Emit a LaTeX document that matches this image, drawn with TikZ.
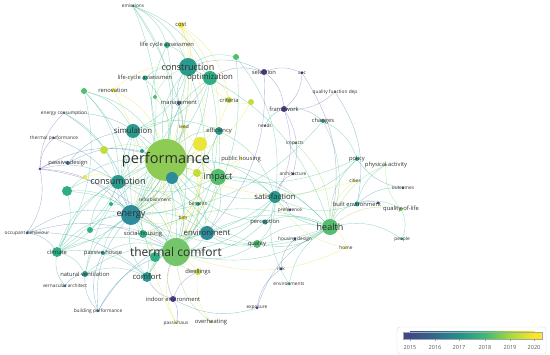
\documentclass[tikz,border=0pt]{standalone}
\usepackage{fontspec}
\setmainfont{Open Sans}
\usetikzlibrary{backgrounds}

% year colours (viridis-like)
\definecolor{vA}{HTML}{4A3F8E}
\definecolor{vB}{HTML}{3A6E9A}
\definecolor{vC}{HTML}{2A9A8E}
\definecolor{vD}{HTML}{2FAE85}
\definecolor{vE}{HTML}{52BE6E}
\definecolor{vF}{HTML}{7FCE5A}
\definecolor{vG}{HTML}{C2DC3A}
\definecolor{vH}{HTML}{F0E532}
\definecolor{vT}{HTML}{2E8C9A}
\definecolor{perfgreen}{HTML}{8DCB55}
\definecolor{thermgreen}{HTML}{74C66A}
\definecolor{ybig}{HTML}{E9E53A}
\definecolor{lbl}{HTML}{2E2E2E}
% link colours
\definecolor{eT}{HTML}{4FC09C}
\definecolor{eY}{HTML}{E2E252}
\definecolor{eP}{HTML}{7D78BE}
\definecolor{eB}{HTML}{4C9CB6}
\definecolor{eG}{HTML}{96D46A}
% colour bar
\definecolor{c15}{HTML}{3F4989}
\definecolor{c16}{HTML}{306A8E}
\definecolor{c17}{HTML}{21918C}
\definecolor{c18}{HTML}{3BBB75}
\definecolor{c19}{HTML}{A5DB36}
\definecolor{c20}{HTML}{FDE725}

\tikzset{
  kw/.style={circle, inner sep=0pt, minimum size=#1},
  lt/.style={font=\fontsize{4.8}{5}\selectfont, text=lbl, inner sep=0pt},
  ls/.style={font=\fontsize{5.8}{6}\selectfont, text=lbl, inner sep=0pt},
  lm/.style={font=\fontsize{7.8}{8}\selectfont, text=lbl, inner sep=0pt},
  lb/.style={font=\fontsize{9}{9}\selectfont, text=lbl, inner sep=0pt},
  lh/.style={font=\fontsize{14.5}{15}\selectfont, text=lbl, inner sep=0pt},
  lH/.style={font=\fontsize{12}{12}\selectfont, text=lbl, inner sep=0pt},
  link/.style={draw=#1, line width=0.35pt, opacity=0.6, bend left=22},
  yr/.style={font=\fontsize{5.6}{6}\selectfont, text=black!65},
}

\begin{document}
\begin{tikzpicture}[x=1pt, y=-1pt]
    \useasboundingbox (0,0) rectangle (550,355);

    % keyword circles
    \foreach \n/\x/\y/\r/\c in {
        emis/133/6/1.5/vC, cost/181/25/3/vH, lcaA/167/45/3/vD,
        constr/188/67/9/vC, optim/210/78/7/vD, gnA/236/57/3/vE,
        lcaB/145/78/2.5/vD, renov/113/90/2/vH, gnB/84/91/3/vE,
        gnC/155/97/2/vE, manag/179/103/2/vB, crit/229/100/3/vG,
        ylA/251/102/3/vG, selec/264/72/3/vA, aec/302/73/1.5/vA,
        qfd/335/92/1.2/vB, frame/284/109/3/vA, chang/323/121/2/vC,
        encons/64/113/1.2/vB, thperf/54/138/1.2/vA, pasdes/68/163/2/vB,
        hub/40/169/1.5/vA, simul/133/131/7/vC, leed/184/127/2/vH,
        effic/219/131/4/vC, perf/166/160/21/perfgreen, ybg/200/144/7/ybig,
        gnD/104/150/4/vG, tealA/142/151/2/vC, pubh/241/159/1.5/vH,
        needs/265/126/1/vB, impacts/295/143/1.5/vF, arch/293/174/1.5/vA,
        impact/218/177/8/vE, ylB/197/173/4/vG, tb/172/178/6/vT,
        consum/118/182/7/vC, gnE/67/191/5/vD, ylC/85/177/2/vH,
        policy/357/159/2/vC, physa/386/165/1.5/vF, cities/355/181/1.5/vH,
        outc/403/188/1.5/vB, satis/275/197/6/vC, pref/290/210/1.5/vA,
        refurb/155/200/1.2/vG, benef/198/204/2/vD, tealB/111/204/2/vD,
        energy/131/215/10/vT, bim/183/218/2/vH, builte/357/204/2.5/vC,
        purp/378/203/1.5/vA, qol/401/209/2/vF, health/330/227/8/vE,
        percep/265/222/2.5/vC, socialh/143/234/4/vD, envir/207/233/7/vT,
        therm/176/252/14/thermgreen, gnF/155/257/5/vD, gnG/90/230/3/vD,
        climate/57/252/5/vD, pash/103/253/2/vC, quality/257/244/4/vE,
        housd/295/239/1.5/vA, home/346/248/1.5/vH, people/402/239/1.5/vD,
        occb/27/233/1.5/vB, natv/85/274/3/vC, comfort/147/277/5/vC,
        dwell/198/272/3/vG, vernac/65/286/1.5/vB, risk/281/269/1.5/vA,
        envs/289/284/1.5/vD, indoor/173/299/3/vA, buildp/98/311/1.5/vB,
        expo/257/308/1.5/vA, passiv/176/323/1.5/vH, overh/211/322/1.5/vF}
        \node[kw=2*\r, fill=\c] (\n) at (\x,\y) {};

    % links
    \begin{scope}[on background layer]
    \foreach \a/\b/\c in {
        perf/constr/eT, perf/optim/eT, perf/simul/eT, perf/energy/eT,
        perf/therm/eG, perf/consum/eT, perf/impact/eG, perf/effic/eT,
        perf/satis/eT, perf/health/eT, perf/envir/eT, perf/climate/eT,
        perf/comfort/eT, perf/lcaA/eT, emis/constr/eT, emis/energy/eT,
        emis/lcaA/eT, emis/perf/eT, emis/optim/eT, cost/constr/eY,
        cost/crit/eY, cost/perf/eY, cost/effic/eY, lcaA/constr/eT,
        lcaA/energy/eT, constr/optim/eT, constr/gnA/eT, constr/selec/eB,
        constr/energy/eT, constr/consum/eT, optim/selec/eP, optim/simul/eT,
        optim/crit/eY, gnA/therm/eT, gnA/satis/eT, selec/aec/eP,
        selec/frame/eP, selec/envir/eP, aec/frame/eP, aec/health/eP,
        qfd/frame/eP, qfd/builte/eB, frame/chang/eB, frame/satis/eP,
        frame/arch/eP, chang/policy/eT, chang/health/eT, chang/energy/eT,
        hub/thperf/eP, hub/pasdes/eP, hub/encons/eP, hub/occb/eP,
        hub/perf/eP, hub/energy/eP, hub/consum/eB, hub/therm/eP,
        encons/consum/eT, encons/energy/eB, occb/energy/eB, occb/climate/eB,
        occb/therm/eP, climate/energy/eT, climate/therm/eT, climate/natv/eT,
        climate/comfort/eT, natv/therm/eT, natv/comfort/eT, vernac/climate/eB,
        vernac/natv/eB, buildp/natv/eB, buildp/therm/eB, buildp/energy/eB,
        buildp/pash/eB, buildp/envir/eB, indoor/therm/eP, indoor/comfort/eP,
        indoor/passiv/eP, indoor/dwell/eP, passiv/therm/eY, passiv/perf/eY,
        overh/therm/eG, overh/dwell/eY, expo/indoor/eB, expo/health/eB,
        expo/risk/eP, risk/housd/eP, envs/health/eT, envs/satis/eT,
        health/policy/eT, health/builte/eT, health/qol/eG, health/people/eT,
        health/home/eY, health/satis/eT, health/therm/eT, health/energy/eT,
        health/quality/eT, health/physa/eG, health/cities/eY, builte/physa/eT,
        builte/qol/eT, builte/outc/eB, builte/purp/eP, qol/physa/eG,
        qol/people/eT, outc/policy/eB, home/satis/eY, home/therm/eY,
        cities/perf/eY, satis/therm/eT, satis/perf/eT, satis/quality/eT,
        satis/percep/eT, satis/pref/eP, satis/arch/eP, satis/socialh/eT,
        satis/envir/eT, impact/energy/eT, impact/consum/eT, impact/therm/eG,
        impact/effic/eT, impact/envir/eT, energy/therm/eT, energy/consum/eT,
        energy/simul/eT, energy/socialh/eT, energy/envir/eT, energy/comfort/eT,
        ybg/perf/eY, ybg/bim/eY, ybg/leed/eY, ylB/bim/eY,
        bim/therm/eY, bim/energy/eY, refurb/energy/eG, benef/perf/eT,
        pubh/perf/eY, pubh/socialh/eY, needs/frame/eB, impacts/health/eG,
        renov/energy/eY, renov/perf/eY, gnB/simul/eT, gnB/consum/eT,
        gnB/climate/eT, manag/constr/eB, manag/perf/eB, gnE/consum/eT,
        gnE/energy/eT, gnE/therm/eT, socialh/therm/eT, socialh/health/eT,
        quality/therm/eT, quality/envir/eT, quality/health/eT, percep/therm/eT,
        gnG/energy/eT, gnG/therm/eT, gnF/therm/eT, tb/therm/eB,
        gnD/perf/eG, ylC/consum/eY, tealA/perf/eT, tealB/energy/eT,
        constr/therm/eT, constr/health/eT, optim/energy/eT, optim/therm/eT,
        simul/therm/eT, simul/consum/eT, simul/effic/eT, effic/therm/eT,
        effic/energy/eT, consum/therm/eT, consum/envir/eT, consum/climate/eT,
        impact/health/eT, impact/satis/eT, envir/health/eT, envir/therm/eT,
        comfort/therm/eT, comfort/energy/eT, comfort/envir/eT, lcaB/constr/eT,
        lcaB/energy/eT, lcaB/perf/eT, renov/constr/eY, gnB/energy/eT,
        gnB/perf/eT, gnC/constr/eG, gnC/perf/eG, manag/energy/eB,
        crit/perf/eY, crit/optim/eY, ylA/perf/eY, ylA/crit/eY,
        leed/perf/eY, leed/energy/eY, ybg/therm/eY, ybg/energy/eY,
        ylB/therm/eY, tb/energy/eB, refurb/perf/eG, benef/therm/eT,
        bim/perf/eY, dwell/perf/eY, dwell/energy/eG, climate/consum/eT,
        climate/perf/eT, natv/energy/eT, natv/perf/eT, pash/therm/eT,
        pash/energy/eT, pasdes/perf/eB, pasdes/simul/eB, thperf/energy/eB,
        encons/perf/eB, occb/comfort/eB, gnE/perf/eT, gnE/climate/eT,
        gnG/consum/eT, socialh/perf/eT, quality/perf/eT, percep/perf/eT,
        percep/health/eT, health/envir/eT, policy/satis/eT, policy/perf/eT,
        builte/satis/eT, cost/energy/eY, cost/therm/eY, emis/therm/eT,
        simul/climate/eT, optim/consum/eT, constr/simul/eT, effic/satis/eT}
        \draw[link=\c] (\a) to (\b);
    \end{scope}

    % keyword labels
    \foreach \n/\s/\t in {
        emis/lt/emissions, cost/ls/cost, lcaA/ls/life cycle assessmen,
        constr/lb/construction, optim/lm/optimization, lcaB/ls/life-cycle assessmen,
        renov/ls/renovation, manag/ls/management, crit/ls/criteria,
        selec/ls/selection, aec/lt/aec, qfd/lt/quality function dep,
        frame/ls/framework, chang/ls/changes, encons/lt/energy consumption,
        thperf/lt/thermal performance, pasdes/ls/passive design, simul/lm/simulation,
        leed/lt/leed, effic/ls/efficiency, perf/lh/performance,
        pubh/ls/public housing, needs/lt/needs, impacts/lt/impacts,
        arch/lt/architecture, impact/lb/impact, consum/lb/consumption,
        policy/ls/policy, physa/ls/physical activity, cities/lt/cities,
        outc/lt/outcomes, satis/lm/satisfaction, pref/lt/preference,
        refurb/lt/refurbishment, benef/lt/benefits, energy/lb/energy,
        bim/lt/bim, builte/ls/built environment, qol/ls/quality-of-life,
        health/lb/health, percep/ls/perception, socialh/ls/social housing,
        envir/lm/environment, therm/lH/thermal comfort, climate/ls/climate,
        pash/ls/passive house, quality/ls/quality, housd/lt/housing design,
        home/lt/home, people/lt/people, occb/lt/occupant behaviour,
        natv/ls/natural ventilation, comfort/lm/comfort, dwell/ls/dwellings,
        vernac/lt/vernacular architect, risk/lt/risk, envs/lt/environments,
        indoor/ls/indoor environment, buildp/lt/building performance,
        expo/lt/exposure, passiv/lt/passivhaus, overh/ls/overheating}
        \node[\s] (\n-l) at (\n) {\t};

    % colour bar
    \draw[black!15, fill=white, rounded corners=3pt] (397,327) rectangle (546,354);
    \fill[c15] (403,332) rectangle (410.5,339);
    \shade[left color=c15, right color=c16] (410,332) rectangle (435.5,339);
    \shade[left color=c16, right color=c17] (435,332) rectangle (459.5,339);
    \shade[left color=c17, right color=c18] (459,332) rectangle (485.5,339);
    \shade[left color=c18, right color=c19] (485,332) rectangle (510.5,339);
    \shade[left color=c19, right color=c20] (510,332) rectangle (534.5,339);
    \fill[c20] (534,332) rectangle (542,339);
    \draw[black!35, line width=0.3pt] (403,332) rectangle (542,339);
    \foreach \yv/\xv in {2015/410, 2016/435, 2017/459, 2018/485, 2019/510, 2020/534}{
        \draw[black!40, line width=0.3pt] (\xv,339) -- (\xv,341.5);
        \node[yr] (y\yv) at (\xv,347.5) {\yv};
    }
\end{tikzpicture}
\end{document}
